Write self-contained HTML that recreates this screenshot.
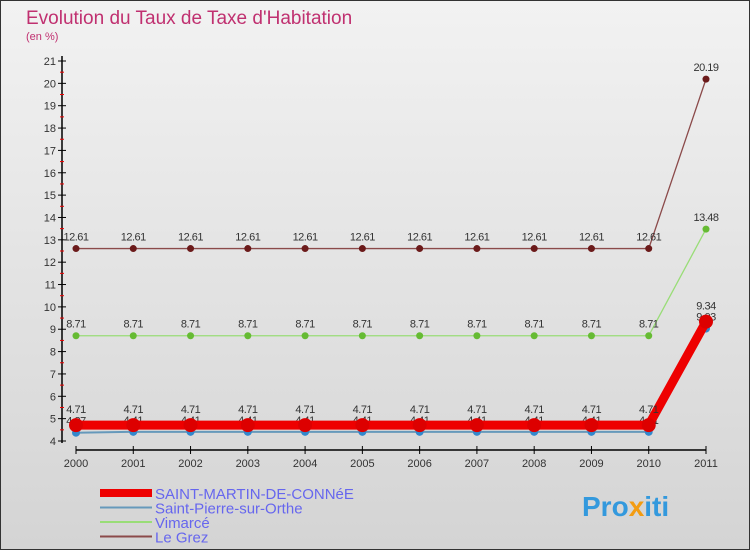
<!DOCTYPE html>
<html><head><meta charset="utf-8"><style>
body{margin:0;width:750px;height:550px;overflow:hidden;font-family:"Liberation Sans",sans-serif}
svg{display:block}
</style></head><body>
<svg id="c" width="750" height="550" xmlns="http://www.w3.org/2000/svg">
<defs><linearGradient id="bg" x1="0" y1="0" x2="0" y2="1"><stop offset="0" stop-color="#f2f2f2"/><stop offset="1" stop-color="#d4d4d4"/></linearGradient></defs>
<rect x="0.5" y="0.5" width="749" height="549" fill="url(#bg)" stroke="#333"/>
<text x="26" y="24" font-size="19" fill="#c03070">Evolution du Taux de Taxe d'Habitation</text>
<text x="26" y="40" font-size="11" fill="#c03070">(en %)</text>
<g id="axes"></g><g id="series"></g><g id="legend"></g>
<text x="582" y="516" font-size="28" font-weight="bold" fill="#3399dd">Pro<tspan fill="#f39c12">x</tspan>iti</text>
</svg>
<script>
const years=["2000","2001","2002","2003","2004","2005","2006","2007","2008","2009","2010","2011"];
const yTicks=[4,5,6,7,8,9,10,11,12,13,14,15,16,17,18,19,20,21];
const saintMartin=[4.71,4.71,4.71,4.71,4.71,4.71,4.71,4.71,4.71,4.71,4.71,9.34];
const saintPierre=[4.37,4.41,4.41,4.41,4.41,4.41,4.41,4.41,4.41,4.41,4.41,9.03];
const vimarce=[8.71,8.71,8.71,8.71,8.71,8.71,8.71,8.71,8.71,8.71,8.71,13.48];
const leGrez=[12.61,12.61,12.61,12.61,12.61,12.61,12.61,12.61,12.61,12.61,12.61,20.19];
const NS="http://www.w3.org/2000/svg";
const X=i=>76+i*(630/11);
const Y=v=>441-(v-4)*(380/17);
function mk(t,a,p){const e=document.createElementNS(NS,t);for(const k in a)e.setAttribute(k,a[k]);p.appendChild(e);return e;}
const ax=document.getElementById('axes');
let l=mk('line',{x1:62,y1:56,x2:62,y2:443,stroke:'#000','stroke-width':1.5},ax);


l=mk('line',{x1:76,y1:450,x2:706,y2:450,stroke:'#000','stroke-width':1.5},ax);


yTicks.forEach(v=>{
 mk('line',{x1:58,y1:Y(v),x2:66,y2:Y(v),stroke:'#000'},ax);
 if(v<21)mk('line',{x1:60,y1:Y(v+0.5),x2:64,y2:Y(v+0.5),stroke:'#e00'},ax);
 const t=mk('text',{x:56,y:Y(v)+4,'text-anchor':'end','font-size':11,fill:'#333'},ax);t.textContent=v;
 
 
});
years.forEach((y,i)=>{
 mk('line',{x1:X(i),y1:446,x2:X(i),y2:454,stroke:'#000'},ax);
 const t=mk('text',{x:X(i),y:467,'text-anchor':'middle','font-size':11,fill:'#333'},ax);t.textContent=y;
 
 
});
const sg=document.getElementById('series');
function fmt(v){return String(v).replace(/\.?0+$/,'');}
function draw(data,color,w,r,dot,name,dy){
 const g=mk('g',{},sg);
 
 
 mk('polyline',{points:data.map((v,i)=>X(i)+','+Y(v)).join(' '),fill:'none',stroke:color,'stroke-width':w},g);
 data.forEach((v,i)=>{
  const c=mk('circle',{cx:X(i),cy:Y(v),r:r,fill:dot},g);
  
  
  const t=mk('text',{x:X(i),y:Y(v)-dy,'text-anchor':'middle','font-size':11,fill:'#333','letter-spacing':'-0.5'},g);
  t.textContent=fmt(v);
  
  
 });
}
draw(leGrez,'#8b4a4a',1.3,3.5,'#6b1a1a','le-grez',8);
draw(vimarce,'#99dd77',1.3,3.5,'#66bb33','vimarce',8);
draw(saintPierre,'#6699bb',2,4,'#3388cc','saint-pierre',8);
draw(saintMartin,'#ee0000',9,7,'#dd0000','saint-martin',12);
const lg=document.getElementById('legend');
const items=[["SAINT-MARTIN-DE-CONNéE","#ee0000",8],["Saint-Pierre-sur-Orthe","#6699bb",2],["Vimarcé","#99dd77",2],["Le Grez","#8b4a4a",2]];
items.forEach((it,i)=>{
 const y=493+i*14.5;
 const g=mk('g',{},lg);
 
 
 mk('line',{x1:100,y1:y,x2:152,y2:y,stroke:it[1],'stroke-width':it[2]},g);
 const t=mk('text',{x:155,y:y+6,'font-size':15,fill:'#6666ee'},g);t.textContent=it[0];
});
</script>
</body></html>
